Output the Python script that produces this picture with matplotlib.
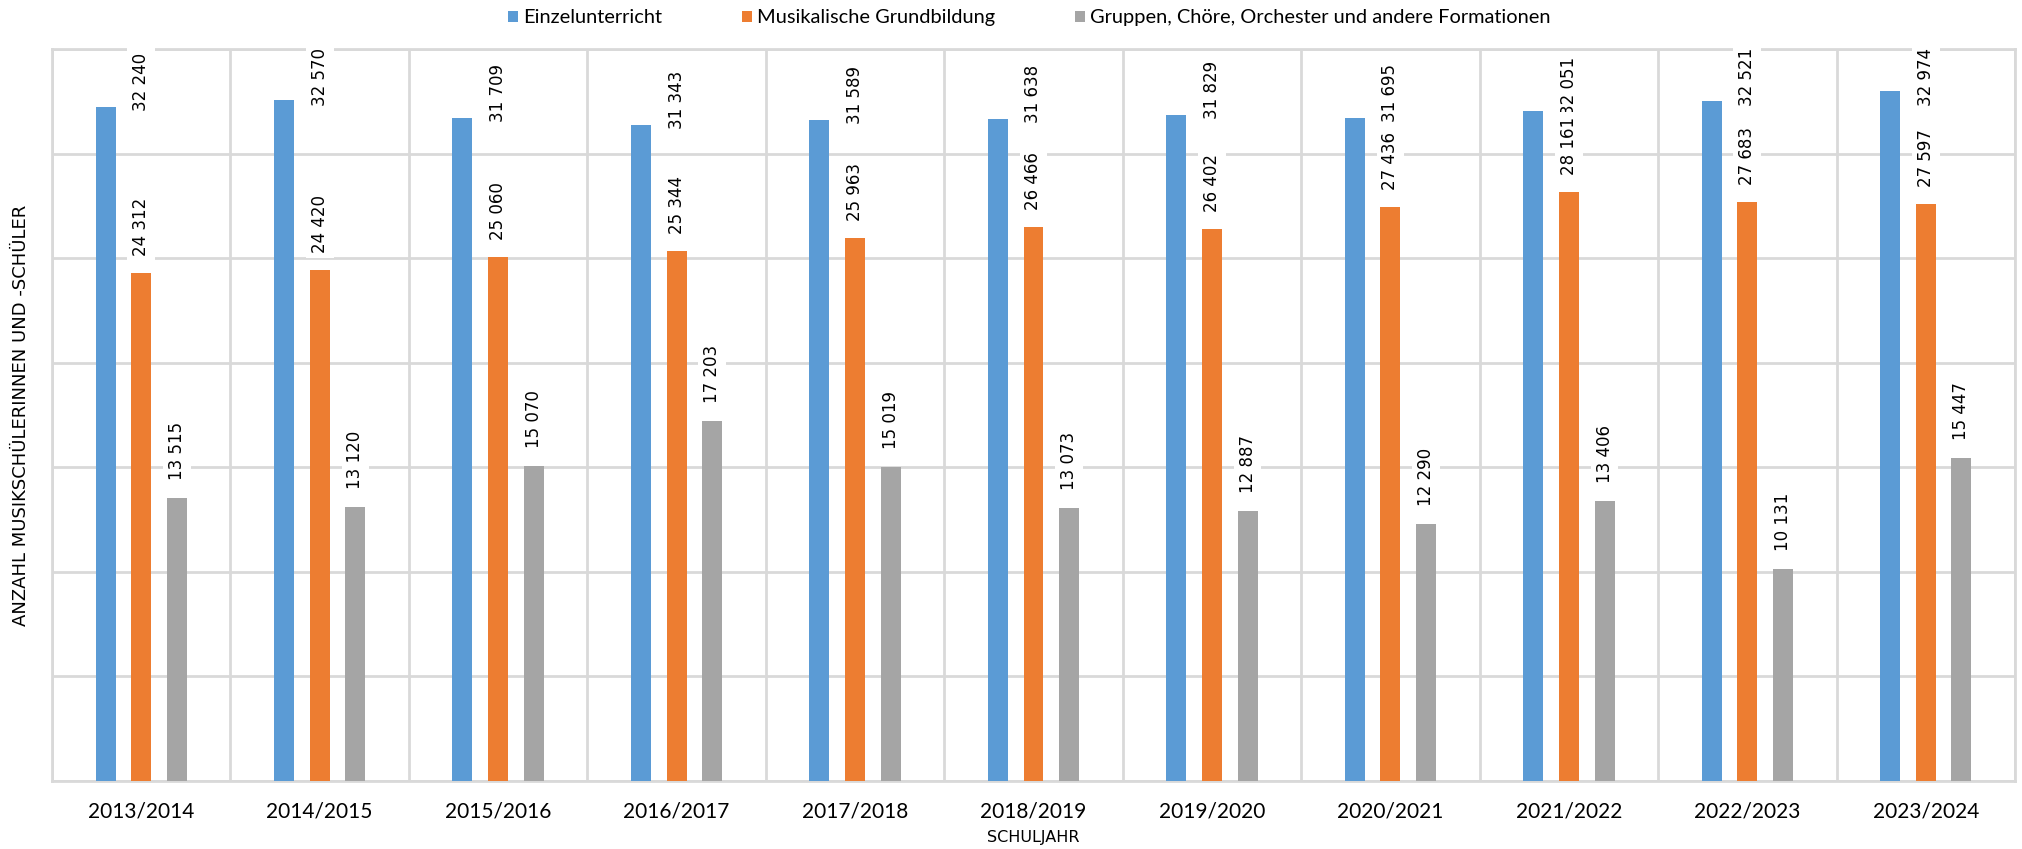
import matplotlib
matplotlib.use("Agg")
import matplotlib.pyplot as plt
import numpy as np

years = ["2013/2014", "2014/2015", "2015/2016", "2016/2017", "2017/2018", "2018/2019",
         "2019/2020", "2020/2021", "2021/2022", "2022/2023", "2023/2024"]
einzel = [32240, 32570, 31709, 31343, 31589, 31638, 31829, 31695, 32051, 32521, 32974]
grund = [24312, 24420, 25060, 25344, 25963, 26466, 26402, 27436, 28161, 27683, 27597]
gruppen = [13515, 13120, 15070, 17203, 15019, 13073, 12887, 12290, 13406, 10131, 15447]
series_names = ["Einzelunterricht", "Musikalische Grundbildung",
                "Gruppen, Chöre, Orchester und andere Formationen"]
colors = ["#5B9BD5", "#ED7D31", "#A5A5A5"]

W, H = 2022, 849
fig = plt.figure(figsize=(W / 100, H / 100), dpi=100)
ax = fig.add_axes([52 / W, 1 - 781 / H, (2015 - 52) / W, (781 - 49) / H])

x = np.arange(len(years))
offsets = [-0.2, 0.0, 0.2]
bw = 0.112
handles = []
for vals, off, col, name in zip([einzel, grund, gruppen], offsets, colors, series_names):
    b = ax.bar(x + off, vals, width=bw, color=col, label=name, zorder=3)
    handles.append(b)

def fmt(v):
    return f"{v:,}".replace(",", " ")

lab_kw = dict(rotation=90, ha="center", va="bottom", fontsize=12,
              family="DejaVu Sans", color="#000000", zorder=5,
              textcoords="offset pixels",
              bbox=dict(facecolor="white", edgecolor="none", pad=3.5))
# Einzelunterricht labels sit in the slot to the right of their bar,
# kept inside the plot area (as the original chart does)
label_cap = 32450
for xi, v in zip(x, einzel):
    ax.annotate(fmt(v), xy=(xi + offsets[1], min(v, label_cap)), xytext=(0, -4), **lab_kw)
for xi, v in zip(x, grund):
    ax.annotate(fmt(v), xy=(xi + offsets[1], v), xytext=(0, 17), **lab_kw)
for xi, v in zip(x, gruppen):
    ax.annotate(fmt(v), xy=(xi + offsets[2], v), xytext=(0, 18), **lab_kw)

ax.set_xlim(-0.5, len(years) - 0.5)
ax.set_ylim(0, 35000)
ax.set_yticks(np.arange(0, 35001, 5000))
ax.set_yticklabels([])
ax.set_xticks(x)
ax.set_xticklabels(years, fontsize=15, family="Lato")
ax.set_xticks(np.arange(-0.5, len(years), 1), minor=True)
ax.tick_params(axis="both", which="both", length=0)
ax.tick_params(axis="x", which="major", pad=15)
gcol = "#D9D9D9"
ax.grid(axis="y", which="major", color=gcol, linewidth=2, zorder=0)
ax.grid(axis="x", which="minor", color=gcol, linewidth=2, zorder=0)
ax.grid(axis="x", which="major", visible=False)
for s in ax.spines.values():
    s.set_color(gcol)
    s.set_linewidth(2)
    s.set_zorder(1)

ax.set_xlabel("SCHULJAHR", fontsize=11.5, family="DejaVu Sans", labelpad=6)
ax.set_ylabel("ANZAHL MUSIKSCHÜLERINNEN UND -SCHÜLER", fontsize=13, family="DejaVu Sans", labelpad=12)

fig.legend(handles=handles, labels=series_names, loc="center", bbox_to_anchor=(0.509, 0.979),
           ncol=3, frameon=False, prop={"family": "Lato", "size": 14.4},
           handlelength=0.5, handleheight=0.5, handletextpad=0.25, columnspacing=4.0)

fig.savefig("out.png", dpi=100, facecolor="white")
